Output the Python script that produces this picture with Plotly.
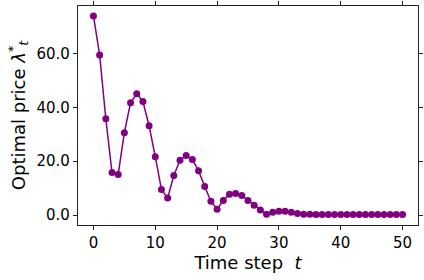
import plotly.graph_objects as go

time_steps = list(range(51))
optimal_price = [74.0, 59.5, 35.8, 15.8, 15.1, 30.6, 41.7, 45.1, 42.2, 33.2,
                 21.7, 9.5, 6.3, 14.7, 20.4, 22.1, 20.6, 16.5, 10.6, 5.1,
                 2.2, 5.4, 7.7, 8.0, 7.3, 5.4, 3.6, 1.9, 0.3, 1.0,
                 1.4, 1.4, 1.0, 0.6, 0.3, 0.3, 0.2, 0.2, 0.2, 0.2,
                 0.2, 0.2, 0.2, 0.2, 0.2, 0.2, 0.2, 0.2, 0.2, 0.2, 0.2]
x_ticks = [0, 10, 20, 30, 40, 50]
y_ticks = [0, 20, 40, 60]

fig = go.Figure(go.Scatter(
    x=time_steps, y=optimal_price, mode="lines+markers",
    line=dict(color="#800080", width=1.5),
    marker=dict(color="#800080", size=7),
    cliponaxis=False,
))

axis_common = dict(showgrid=False, zeroline=False, showline=True, linecolor="#222222",
                   linewidth=1.2, mirror="ticks", ticks="outside", ticklen=4, tickcolor="#222222",
                   tickfont=dict(size=15, color="black"), automargin=False)
fig.update_xaxes(range=[-2.5, 52.5], tickvals=x_ticks,
                 title=dict(text="Time step  <i>t</i>", font=dict(size=18, color="black"), standoff=4),
                 **axis_common)
fig.update_yaxes(range=[-3.7, 77.7], tickvals=y_ticks, tickformat=".1f",
                 title=dict(text="Optimal price <i>λ</i><sup>*</sup><sub><i>t</i></sub>",
                            font=dict(size=18, color="black"), standoff=6),
                 **axis_common)
fig.update_layout(width=424, height=280, margin=dict(l=78, r=6, t=6, b=55),
                  plot_bgcolor="white", paper_bgcolor="white", showlegend=False,
                  font=dict(family="DejaVu Sans", color="black"))
fig.write_html("out.html", config={"displayModeBar": False},
               post_script="document.documentElement.style.margin='0';document.documentElement.style.overflow='hidden';document.body.style.margin='0';document.body.style.padding='0';document.body.style.overflow='hidden';")
